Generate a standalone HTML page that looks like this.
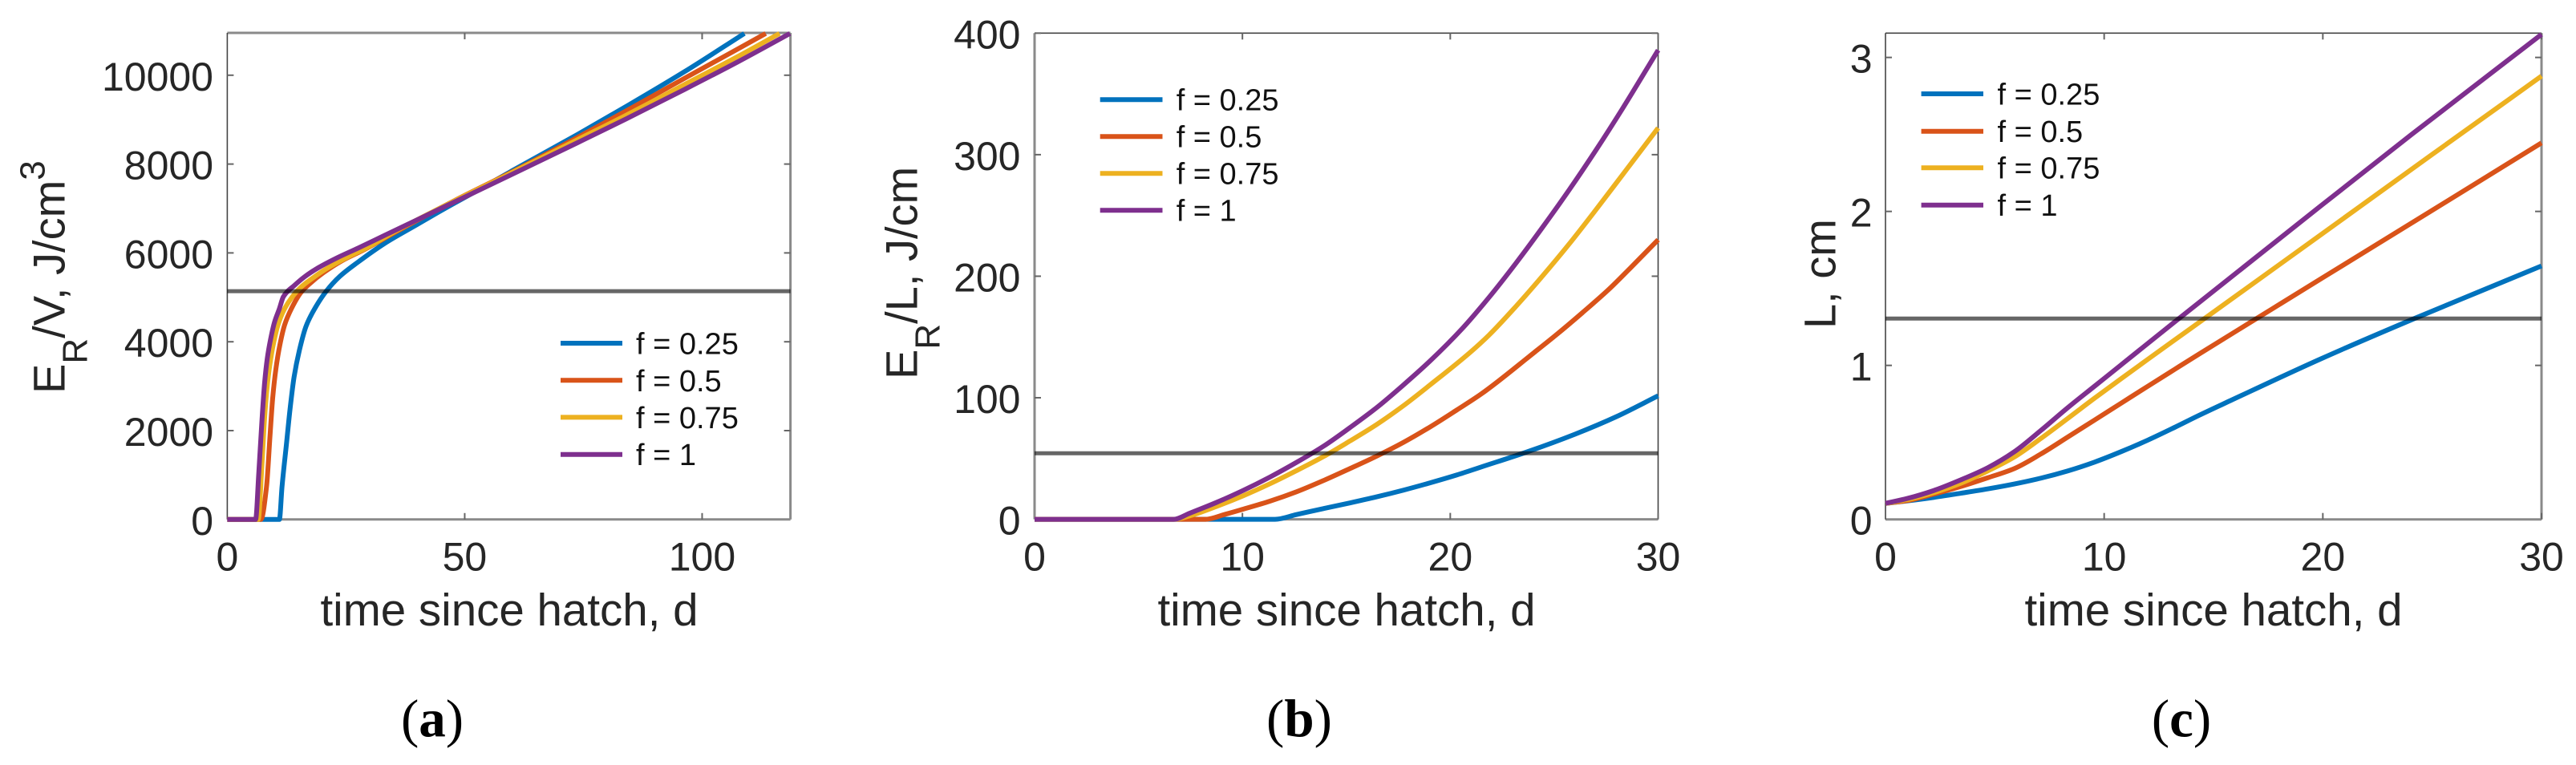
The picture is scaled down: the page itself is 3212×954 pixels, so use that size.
<!DOCTYPE html>
<html lang="en">
<head>
<meta charset="utf-8">
<title>Reserve energy and length versus time since hatch</title>
<style>
html,body{margin:0;padding:0;background:#fff;width:3212px;height:954px;overflow:hidden}
svg{display:block}
text{font-family:"Liberation Sans",sans-serif;fill:#262626}
.tick{font-size:50px}
.axis-title{font-size:56px}
.x-title{font-size:56.5px}
.legend-text{font-size:38px;fill:#111}
.caption{font-family:"Liberation Serif",serif;font-size:67px;fill:#000;text-anchor:middle}
.caption tspan{font-weight:bold}
.legend-line{stroke-width:6;fill:none}
</style>
</head>
<body>
<svg id="figure" xmlns="http://www.w3.org/2000/svg" width="3212" height="954" viewBox="0 0 3212 954">
  <rect x="0" y="0" width="3212" height="954" fill="#fff"/>
  <g id="panel-a"></g>
  <g id="panel-b"></g>
  <g id="panel-c"></g>

  <text class="axis-title" transform="translate(80.7,491) rotate(-90)">E<tspan font-size="44" dy="28">R</tspan><tspan dy="-28">/V, J/cm</tspan><tspan font-size="44" dy="-25">3</tspan></text>
  <text class="axis-title" transform="translate(1143.5,473) rotate(-90)">E<tspan font-size="44" dy="28">R</tspan><tspan dy="-28">/L, J/cm</tspan></text>
  <text class="axis-title" transform="translate(2288.5,410) rotate(-90)">L, cm</text>

  <text class="x-title" x="635" y="780" text-anchor="middle">time since hatch, d</text>
  <text class="x-title" x="1679" y="780" text-anchor="middle">time since hatch, d</text>
  <text class="x-title" x="2760" y="780" text-anchor="middle">time since hatch, d</text>

  <g>
    <line class="legend-line" x1="699" x2="776" y1="428" y2="428" stroke="#0072BD"/>
    <text class="legend-text" x="793" y="441.5">f = 0.25</text>
    <line class="legend-line" x1="699" x2="776" y1="474.3" y2="474.3" stroke="#D95319"/>
    <text class="legend-text" x="793" y="487.8">f = 0.5</text>
    <line class="legend-line" x1="699" x2="776" y1="520.4" y2="520.4" stroke="#EDB120"/>
    <text class="legend-text" x="793" y="533.9">f = 0.75</text>
    <line class="legend-line" x1="699" x2="776" y1="566.7" y2="566.7" stroke="#7E2F8E"/>
    <text class="legend-text" x="793" y="580.2">f = 1</text>
  </g>
  <g>
    <line class="legend-line" x1="1371.7" x2="1449.5" y1="124.3" y2="124.3" stroke="#0072BD"/>
    <text class="legend-text" x="1466.7" y="137.7">f = 0.25</text>
    <line class="legend-line" x1="1371.7" x2="1449.5" y1="170.3" y2="170.3" stroke="#D95319"/>
    <text class="legend-text" x="1466.7" y="183.7">f = 0.5</text>
    <line class="legend-line" x1="1371.7" x2="1449.5" y1="216.3" y2="216.3" stroke="#EDB120"/>
    <text class="legend-text" x="1466.7" y="229.7">f = 0.75</text>
    <line class="legend-line" x1="1371.7" x2="1449.5" y1="262.3" y2="262.3" stroke="#7E2F8E"/>
    <text class="legend-text" x="1466.7" y="275.7">f = 1</text>
  </g>
  <g>
    <line class="legend-line" x1="2395.6" x2="2473" y1="117" y2="117" stroke="#0072BD"/>
    <text class="legend-text" x="2490.5" y="130.7">f = 0.25</text>
    <line class="legend-line" x1="2395.6" x2="2473" y1="163.7" y2="163.7" stroke="#D95319"/>
    <text class="legend-text" x="2490.5" y="177">f = 0.5</text>
    <line class="legend-line" x1="2395.6" x2="2473" y1="209.3" y2="209.3" stroke="#EDB120"/>
    <text class="legend-text" x="2490.5" y="222.7">f = 0.75</text>
    <line class="legend-line" x1="2395.6" x2="2473" y1="255.7" y2="255.7" stroke="#7E2F8E"/>
    <text class="legend-text" x="2490.5" y="269">f = 1</text>
  </g>

  <text class="caption" x="539" y="918.6">(<tspan>a</tspan>)</text>
  <text class="caption" x="1620" y="918.6">(<tspan>b</tspan>)</text>
  <text class="caption" x="2720" y="918.6">(<tspan>c</tspan>)</text>
</svg>

<script>
// ---------- Panel A data: reserve energy density vs. time ----------
const aXTicks = ["0", "50", "100"];
const aYTicks = ["0", "2000", "4000", "6000", "8000", "10000"];
const aThreshold = [5139];
const aTimeF025 = [0, 10.97, 11.53, 12.49, 13.22, 14.07, 15.19, 16.6, 18.57, 20.82, 23.64, 27.58, 33.2, 40, 45, 52.9, 60, 73.75, 83.9, 96.3, 108.9];
const aValueF025 = [0, 0, 742, 1729, 2487, 3209, 3811, 4353, 4774, 5135, 5466, 5797, 6218, 6640, 6950, 7420, 7850, 8666, 9290, 10080, 10940];
const aTimeF05 = [0, 7.08, 8.27, 9.0, 9.56, 10.24, 11.08, 12.09, 13.5, 15.47, 17.44, 20.26, 24.2, 28.7, 35.46, 47.9, 60, 73.75, 83.9, 96.3, 107.5, 113.4];
const aValueF05 = [0, 0, 742, 1886, 2728, 3390, 3931, 4383, 4744, 5105, 5315, 5556, 5827, 6067, 6470, 7180, 7825, 8600, 9190, 9930, 10590, 10940];
const aTimeF075 = [0, 6.52, 7.2, 7.76, 8.32, 9.0, 9.79, 10.69, 11.93, 13.5, 15.47, 18.01, 21.39, 25.33, 29.27, 35.46, 47.9, 60, 73.75, 83.9, 96.3, 107.5, 116.3];
const aValueF075 = [0, 0, 1043, 2126, 2909, 3510, 3992, 4383, 4714, 4984, 5225, 5436, 5676, 5905, 6110, 6490, 7175, 7810, 8550, 9094, 9790, 10420, 10940];
const aTimeF1 = [0, 5.96, 6.63, 7.31, 7.87, 8.43, 9.11, 9.95, 10.97, 11.81, 14.18, 16.32, 19.13, 23.07, 27.58, 33.2, 47.9, 60, 73.75, 84, 96.3, 107.5, 118.5];
const aValueF1 = [0, 0, 1043, 2247, 3089, 3630, 4052, 4443, 4744, 5014, 5273, 5466, 5664, 5887, 6110, 6398, 7150, 7770, 8480, 9016, 9680, 10300, 10940];

// ---------- Panel B data: reserve energy per length vs. time ----------
const bXTicks = ["0", "10", "20", "30"];
const bYTicks = ["0", "100", "200", "300", "400"];
const bThreshold = [54.3];
const bTimeF025 = [0, 11.57, 12.6, 13.89, 15.17, 16.46, 17.75, 19.03, 20.32, 21.48, 23.7, 26, 28, 30];
const bValueF025 = [0, 0, 3.9, 8.8, 13.5, 18.5, 24, 30, 36.5, 43, 55.5, 70, 84.5, 101.6];
const bTimeF05 = [0, 8.23, 9.13, 10.03, 11.32, 12.6, 13.89, 15.17, 16.46, 17.75, 19.03, 20.32, 21.48, 24.05, 25.08, 26.36, 27.65, 28.68, 30];
const bValueF05 = [0, 0, 3.9, 8.3, 14.9, 22.6, 31.8, 41.7, 52, 63.3, 76, 90, 103, 137.4, 151.5, 170, 189.5, 207, 230];
const bTimeF075 = [0, 6.75, 7.46, 8.74, 10.03, 11.32, 12.6, 13.89, 15.17, 16.46, 17.75, 19.03, 20.96, 21.86, 23.15, 24.43, 25.72, 27, 28.29, 30];
const bValueF075 = [0, 0, 2.8, 10.5, 19.3, 29.2, 40, 51.5, 64.4, 78, 93.5, 110.6, 137.4, 151.5, 175, 200, 226.5, 254.5, 283.5, 322];
const bTimeF1 = [0, 6.69, 7.46, 8.74, 10.03, 11.32, 12.6, 13.89, 15.17, 16.46, 17.75, 19.03, 20.58, 21.86, 23.15, 24.43, 25.72, 27, 28.29, 30];
const bValueF1 = [0, 0, 5, 13.8, 23.7, 34.7, 46.8, 60, 75.4, 91.9, 110.6, 130.3, 157, 182.5, 210.5, 240, 271, 303.5, 338, 386];

// ---------- Panel C data: body length vs. time ----------
const cXTicks = ["0", "10", "20", "30"];
const cYTicks = ["0", "1", "2", "3"];
const cThreshold = [1.304];
const cTimeF025 = [0, 1, 2.22, 3.45, 4.67, 5.89, 7.11, 8.34, 9.56, 10.78, 12, 13.23, 14.33, 15.77, 19.9, 24.18, 27, 30];
const cValueF025 = [0.104, 0.12, 0.143, 0.17, 0.198, 0.23, 0.268, 0.315, 0.372, 0.44, 0.515, 0.598, 0.675, 0.771, 1.042, 1.304, 1.47, 1.646];
const cTimeF05 = [0, 1, 2.22, 3.45, 4.67, 5.89, 7.11, 8.34, 9.56, 10.78, 12, 13.23, 14.33, 17, 20, 25, 30];
const cValueF05 = [0.104, 0.122, 0.165, 0.214, 0.27, 0.33, 0.425, 0.535, 0.645, 0.755, 0.865, 0.975, 1.073, 1.307, 1.57, 2.007, 2.445];
const cTimeF075 = [0, 1, 2.22, 3.45, 4.67, 5.89, 7.11, 8.34, 9.56, 10.78, 12, 13.23, 14.33, 20, 25, 30];
const cValueF075 = [0.104, 0.128, 0.174, 0.235, 0.314, 0.405, 0.526, 0.656, 0.787, 0.914, 1.04, 1.166, 1.278, 1.858, 2.37, 2.879];
const cTimeF1 = [0, 1, 2.22, 3.45, 4.67, 5.89, 7.11, 8.34, 9.56, 10.78, 12, 13.23, 20.03, 24.06, 30];
const cValueF1 = [0.104, 0.136, 0.188, 0.257, 0.335, 0.439, 0.578, 0.726, 0.865, 1.004, 1.143, 1.283, 2.05, 2.5, 3.15];

const SVG_NS = "http://www.w3.org/2000/svg";

function make(tag, parent, props) {
  const el = document.createElementNS(SVG_NS, tag);
  for (const k in props) el.setAttribute(k, props[k]);
  parent.appendChild(el);
  return el;
}

// Monotone cubic path (Fritsch-Butland tangents) through the read points.
function curvePath(xs, ys) {
  const n = xs.length, d = [], h = [], m = [];
  for (let i = 0; i < n - 1; i++) {
    h.push(xs[i + 1] - xs[i]);
    d.push((ys[i + 1] - ys[i]) / h[i]);
  }
  m.push(d[0]);
  for (let i = 1; i < n - 1; i++) {
    if (d[i - 1] * d[i] <= 0) { m.push(0); continue; }
    const w1 = 2 * h[i] + h[i - 1], w2 = h[i] + 2 * h[i - 1];
    m.push((w1 + w2) / (w1 / d[i - 1] + w2 / d[i]));
  }
  m.push(d[n - 2]);
  let p = "M" + xs[0].toFixed(2) + " " + ys[0].toFixed(2);
  for (let i = 0; i < n - 1; i++) {
    const s = h[i] / 3;
    p += "C" + (xs[i] + s).toFixed(2) + " " + (ys[i] + m[i] * s).toFixed(2) + " " +
         (xs[i + 1] - s).toFixed(2) + " " + (ys[i + 1] - m[i + 1] * s).toFixed(2) + " " +
         xs[i + 1].toFixed(2) + " " + ys[i + 1].toFixed(2);
  }
  return p;
}

function drawPanel(cfg) {
  const g = document.getElementById(cfg.id);
  const sx = t => cfg.left + (t / cfg.xMax) * (cfg.right - cfg.left);
  const sy = v => cfg.bottom - (v / cfg.yMax) * (cfg.bottom - cfg.top);

  // plot box edges
  const edges = [
    ["top", cfg.left, cfg.top, cfg.right, cfg.top],
    ["right", cfg.right, cfg.top, cfg.right, cfg.bottom],
    ["bottom", cfg.left, cfg.bottom, cfg.right, cfg.bottom],
    ["left", cfg.left, cfg.top, cfg.left, cfg.bottom]
  ];
  edges.forEach(e => {
    const st = cfg.edges[e[0]];
    const line = make("line", g, {x1: e[1], y1: e[2], x2: e[3], y2: e[4], stroke: st[0], "stroke-width": st[1]});
    
    
  });

  // x ticks
  cfg.xTicks.forEach(label => {
    const x = sx(parseFloat(label));
    if (parseFloat(label) !== 0) {
      [[cfg.bottom, cfg.bottom - 8], [cfg.top, cfg.top + 8]].forEach(pair => {
        const tk = make("line", g, {x1: x, x2: x, y1: pair[0], y2: pair[1], stroke: "#666", "stroke-width": 2});
        
        
      });
    }
    const tx = make("text", g, {class: "tick", x: x, y: 711.5, "text-anchor": "middle"});
    tx.textContent = label;
    
    
  });

  // y ticks
  cfg.yTicks.forEach(label => {
    const y = sy(parseFloat(label));
    if (parseFloat(label) !== 0) {
      [[cfg.left, cfg.left + 8], [cfg.right, cfg.right - 8]].forEach(pair => {
        const tk = make("line", g, {x1: pair[0], x2: pair[1], y1: y, y2: y, stroke: "#666", "stroke-width": 2});
        
        
      });
    }
    const tx = make("text", g, {class: "tick", x: cfg.labelRight, y: y + 19, "text-anchor": "end"});
    tx.textContent = label;
    
    
  });

  // series
  cfg.series.forEach(s => {
    const xs = s.t.map(sx), ys = s.v.map(sy);
    const path = make("path", g, {d: curvePath(xs, ys), fill: "none", stroke: s.color, "stroke-width": 6, "stroke-linejoin": "round"});
    
    
  });

  // threshold line
  const ty = sy(cfg.threshold[0]);
  const hl = make("line", g, {x1: cfg.left, x2: cfg.right, y1: ty, y2: ty, stroke: "#000", "stroke-opacity": 0.6, "stroke-width": 5});
  
  
}

const BLUE = "#0072BD", ORANGE = "#D95319", YELLOW = "#EDB120", PURPLE = "#7E2F8E";
const GREY_EDGE = ["#8a8a8a", 3], DARK_EDGE = ["#444", 1.6];

drawPanel({
  id: "panel-a", left: 283.4, right: 985.6, top: 41, bottom: 647.8, xMax: 118.6, yMax: 10953, labelRight: 266,
  edges: {top: GREY_EDGE, right: GREY_EDGE, bottom: GREY_EDGE, left: DARK_EDGE},
  xTicks: aXTicks, yTicks: aYTicks, threshold: aThreshold,
  series: [
    {name: "f-0.25", color: BLUE, t: aTimeF025, v: aValueF025},
    {name: "f-0.5", color: ORANGE, t: aTimeF05, v: aValueF05},
    {name: "f-0.75", color: YELLOW, t: aTimeF075, v: aValueF075},
    {name: "f-1", color: PURPLE, t: aTimeF1, v: aValueF1}
  ]
});
drawPanel({
  id: "panel-b", left: 1290, right: 2067.5, top: 41.3, bottom: 647.6, xMax: 30, yMax: 400, labelRight: 1272.5,
  edges: {top: DARK_EDGE, right: DARK_EDGE, bottom: GREY_EDGE, left: GREY_EDGE},
  xTicks: bXTicks, yTicks: bYTicks, threshold: bThreshold,
  series: [
    {name: "f-0.25", color: BLUE, t: bTimeF025, v: bValueF025},
    {name: "f-0.5", color: ORANGE, t: bTimeF05, v: bValueF05},
    {name: "f-0.75", color: YELLOW, t: bTimeF075, v: bValueF075},
    {name: "f-1", color: PURPLE, t: bTimeF1, v: bValueF1}
  ]
});
drawPanel({
  id: "panel-c", left: 2351, right: 3169, top: 41.3, bottom: 647.7, xMax: 30, yMax: 3.158, labelRight: 2334.5,
  edges: {top: DARK_EDGE, right: GREY_EDGE, bottom: GREY_EDGE, left: DARK_EDGE},
  xTicks: cXTicks, yTicks: cYTicks, threshold: cThreshold,
  series: [
    {name: "f-0.25", color: BLUE, t: cTimeF025, v: cValueF025},
    {name: "f-0.5", color: ORANGE, t: cTimeF05, v: cValueF05},
    {name: "f-0.75", color: YELLOW, t: cTimeF075, v: cValueF075},
    {name: "f-1", color: PURPLE, t: cTimeF1, v: cValueF1}
  ]
});
</script>
</body>
</html>
